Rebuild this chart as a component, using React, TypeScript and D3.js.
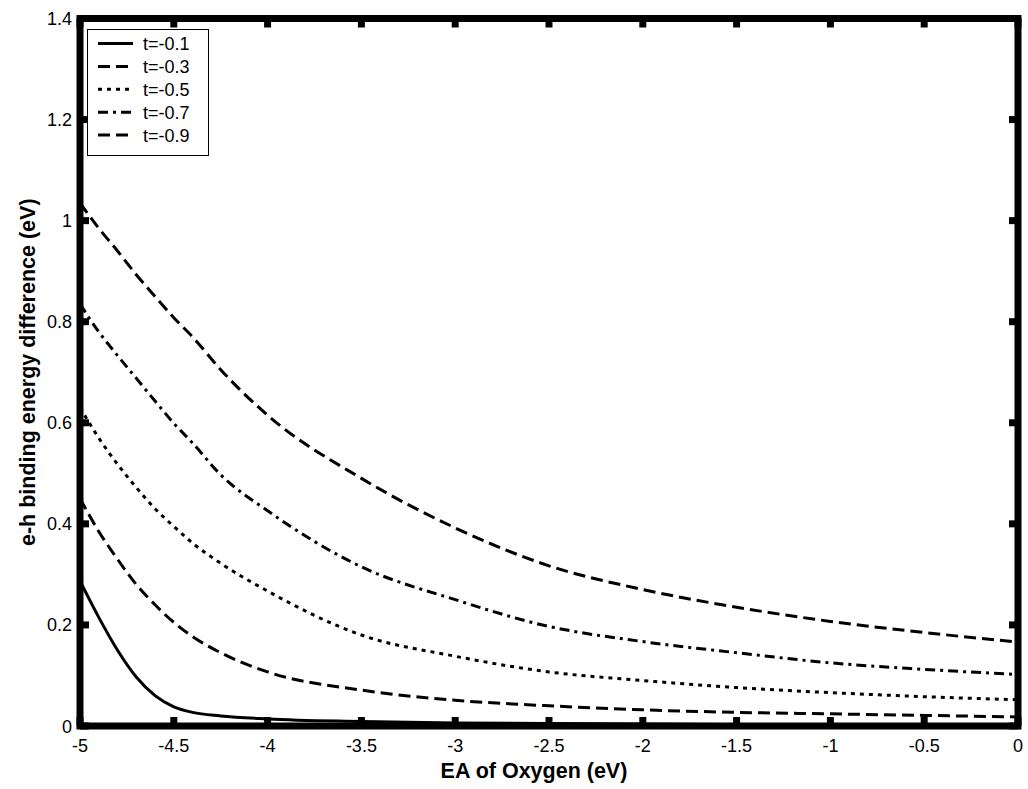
import React, { useEffect } from "react";
import * as d3 from "d3";

const xValues = [-5, -4.9, -4.8, -4.7, -4.6, -4.5, -4.4, -4.25, -4, -3.5, -3, -2.5, -2, -1.5, -1, -0.5, 0];
const seriesT01 = [0.287, 0.215, 0.15, 0.097, 0.06, 0.038, 0.027, 0.02, 0.014, 0.009, 0.006, 0.005, 0.004, 0.003, 0.003, 0.002, 0.002];
const seriesT03 = [0.45, 0.385, 0.33, 0.28, 0.24, 0.205, 0.177, 0.145, 0.107, 0.071, 0.051, 0.04, 0.032, 0.027, 0.024, 0.021, 0.018];
const seriesT05 = [0.63, 0.57, 0.518, 0.472, 0.43, 0.395, 0.362, 0.322, 0.267, 0.18, 0.138, 0.107, 0.09, 0.076, 0.066, 0.058, 0.052];
const seriesT07 = [0.835, 0.78, 0.733, 0.688, 0.643, 0.599, 0.56, 0.497, 0.426, 0.315, 0.25, 0.197, 0.167, 0.145, 0.125, 0.112, 0.102];
const seriesT09 = [1.035, 0.985, 0.94, 0.893, 0.85, 0.808, 0.77, 0.705, 0.615, 0.49, 0.392, 0.317, 0.27, 0.235, 0.207, 0.185, 0.166];
const seriesNames = ["t=-0.1", "t=-0.3", "t=-0.5", "t=-0.7", "t=-0.9"];
const seriesValues = [seriesT01, seriesT03, seriesT05, seriesT07, seriesT09];
const dashes = ["none", "12,6", "4,5", "10,5,3,5", "12,6"];
const xTicks = [-5, -4.5, -4, -3.5, -3, -2.5, -2, -1.5, -1, -0.5, 0];
const yTicks = [0, 0.2, 0.4, 0.6, 0.8, 1, 1.2, 1.4];
const xLabel = "EA of Oxygen (eV)";
const yLabel = "e-h binding energy difference (eV)";

const W = 1028, H = 789;
const L = 80, R = 1018, T = 18.5, B = 726;

export default function App() {
  useEffect(() => {
    document.body.style.margin = "0";
  }, []);
  const x = d3.scaleLinear().domain([-5, 0]).range([L, R]);
  const y = d3.scaleLinear().domain([0, 1.4]).range([B, T]);
  const line = d3
    .line<number>()
    .x((_, i) => x(xValues[i]))
    .y((d) => y(d))
    .curve(d3.curveMonotoneX);
  const font = "'Liberation Sans', Arial, sans-serif";
  const tickLen = 9;
  return (
    <svg width={W} height={H} style={{ display: "block", background: "#fff" }} fontFamily={font}>
      <defs>
        <clipPath id="plot">
          <rect x={L} y={T} width={R - L} height={B - T} />
        </clipPath>
      </defs>
      <g clipPath="url(#plot)">
        {seriesValues.map((s, k) => (
          <path key={k} d={line(s) || ""} fill="none" stroke="#000" strokeWidth={3} strokeDasharray={dashes[k]} />
        ))}
      </g>
      {xTicks.map((t) => (
        <g key={"xt" + t}>
          <line x1={x(t)} x2={x(t)} y1={B} y2={B - tickLen} stroke="#000" strokeWidth={7} />
          <line x1={x(t)} x2={x(t)} y1={T} y2={T + tickLen} stroke="#000" strokeWidth={7} />
          <text x={x(t)} y={752} textAnchor="middle" fontSize={18}>
            {String(t)}
          </text>
        </g>
      ))}
      {yTicks.map((t) => (
        <g key={"yt" + t}>
          <line x1={L} x2={L + tickLen} y1={y(t)} y2={y(t)} stroke="#000" strokeWidth={7} />
          <line x1={R} x2={R - tickLen} y1={y(t)} y2={y(t)} stroke="#000" strokeWidth={7} />
          <text x={72} y={y(t) + 6.5} textAnchor="end" fontSize={18}>
            {String(t)}
          </text>
        </g>
      ))}
      <rect x={L} y={T} width={R - L} height={B - T} fill="none" stroke="#000" strokeWidth={7} />
      <g>
        <rect x={87.5} y={29.5} width={121} height={126} fill="#fff" stroke="#000" strokeWidth={1} />
        {seriesNames.map((n, k) => {
          const yy = 43.5 + k * 22.9;
          return (
            <g key={n}>
              <line x1={98} x2={133} y1={yy} y2={yy} stroke="#000" strokeWidth={3} strokeDasharray={dashes[k]} />
              <text x={143} y={yy + 6.5} fontSize={18}>
                {n}
              </text>
            </g>
          );
        })}
      </g>
      <text x={534} y={778} textAnchor="middle" fontSize={21.5} fontWeight="bold">
        {xLabel}
      </text>
      <text transform={`translate(35, ${(T + B) / 2}) rotate(-90)`} textAnchor="middle" fontSize={21.5} fontWeight="bold">
        {yLabel}
      </text>
    </svg>
  );
}
